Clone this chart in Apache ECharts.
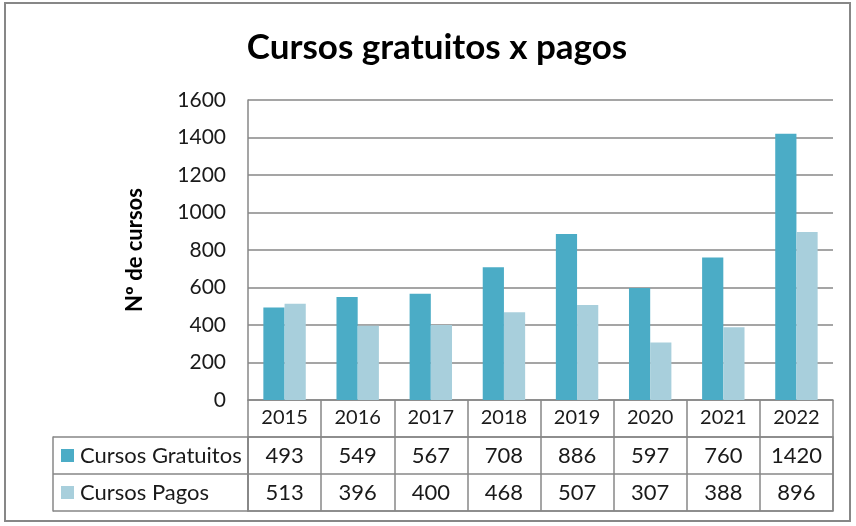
<!DOCTYPE html>
<html>
<head>
<meta charset="utf-8">
<script src="https://cdn.jsdelivr.net/npm/echarts@6/dist/echarts.min.js"></script>
<style>
  html, body { margin: 0; padding: 0; background: #fff; }
  #box { width: 856px; height: 526px; }
</style>
</head>
<body>
<div id="box"></div>
<script>
var anos = ['2015', '2016', '2017', '2018', '2019', '2020', '2021', '2022'];
var gratuitos = [493, 549, 567, 708, 886, 597, 760, 1420];
var pagos = [513, 396, 400, 468, 507, 307, 388, 896];
var nomes = ['Cursos Gratuitos', 'Cursos Pagos'];
var yTicks = [0, 200, 400, 600, 800, 1000, 1200, 1400, 1600];

var cores = ['#4bacc6', '#a8cfdc'];
var cinza = '#878787';
var fonte = 'Lato';

var dom = document.getElementById('box');
var myChart = echarts.init(dom);

// celulas da tabela (coluna = ano, linha = serie)
var celulasG = gratuitos.map(function (v, i) { return [i, 0, v]; });
var celulasP = pagos.map(function (v, i) { return [i, 1, v]; });

var celula = {
    type: 'scatter',
    xAxisIndex: 1,
    yAxisIndex: 1,
    symbolSize: 1,
    silent: true,
    itemStyle: { color: '#fff', opacity: 1 },
    label: {
        show: true,
        position: 'inside',
        formatter: function (p) { return p.value[2]; },
        fontFamily: fonte,
        fontSize: 22,
        color: '#1a1a1a',
        opacity: 1
    }
};

var option = {
    animation: false,
    title: {
        text: 'Cursos gratuitos x pagos',
        left: 432,
        textAlign: 'center',
        top: 25,
        textStyle: { fontFamily: fonte, fontSize: 35, fontWeight: 'bold', color: '#000' }
    },
    graphic: [{
        type: 'rect',
        shape: { x: 5, y: 3, width: 845, height: 518 },
        style: { fill: 'none', stroke: cinza, lineWidth: 2 }
    }],
    grid: [
        { left: 248, right: 23, top: 100, bottom: 126 },
        { left: 248, right: 23, top: 437, bottom: 15, show: true, borderColor: cinza, borderWidth: 1.5 }
    ],
    xAxis: [
        {
            type: 'category',
            gridIndex: 0,
            data: anos,
            axisLine: { show: true, lineStyle: { color: cinza, width: 1.5 } },
            axisTick: { show: true, length: 37, interval: 0, lineStyle: { color: cinza, width: 1.5 } },
            axisLabel: { margin: 8, fontFamily: fonte, fontSize: 20, color: '#1a1a1a' }
        },
        {
            type: 'category',
            gridIndex: 1,
            data: anos,
            axisLine: { show: false },
            axisTick: { show: false },
            axisLabel: { show: false },
            splitLine: { show: true, interval: 0, lineStyle: { color: cinza, width: 1.5 } }
        }
    ],
    yAxis: [
        {
            type: 'value',
            gridIndex: 0,
            min: yTicks[0],
            max: yTicks[yTicks.length - 1],
            interval: 200,
            name: 'Nº de cursos',
            nameLocation: 'middle',
            nameGap: 102,
            nameTextStyle: { fontFamily: fonte, fontSize: 22, fontWeight: 'bold', color: '#000' },
            axisLine: { show: true, lineStyle: { color: cinza, width: 1.5 } },
            axisTick: { show: false },
            axisLabel: {
                margin: 22, fontFamily: fonte, fontSize: 21, color: '#1a1a1a',
                formatter: function (v) { return String(v); }
            },
            splitLine: { show: true, lineStyle: { color: cinza, width: 1.5 } }
        },
        {
            type: 'category',
            gridIndex: 1,
            data: nomes,
            inverse: true,
            axisLine: { show: true, lineStyle: { color: cinza, width: 1.5 } },
            axisTick: { show: true, length: 195, interval: 0, lineStyle: { color: cinza, width: 1.5 } },
            splitLine: { show: true, interval: 0, lineStyle: { color: cinza, width: 1.5 } },
            axisLabel: {
                align: 'left',
                margin: 187,
                formatter: function (v, i) { return '{k' + i + '|}{t|' + v + '}'; },
                rich: {
                    k0: { width: 13, height: 13, backgroundColor: cores[0] },
                    k1: { width: 13, height: 13, backgroundColor: cores[1] },
                    t: { fontFamily: fonte, fontSize: 22, color: '#1a1a1a', padding: [0, 0, 0, 6] }
                }
            }
        },
        {
            type: 'category',
            gridIndex: 1,
            data: nomes,
            position: 'left',
            offset: 195,
            axisLine: { show: true, lineStyle: { color: cinza, width: 1.5 } },
            axisTick: { show: false },
            axisLabel: { show: false }
        }
    ],
    series: [
        {
            name: nomes[0],
            type: 'bar',
            data: gratuitos,
            barGap: '0%',
            barCategoryGap: '42%',
            itemStyle: { color: cores[0] }
        },
        {
            name: nomes[1],
            type: 'bar',
            data: pagos,
            itemStyle: { color: cores[1] }
        },
        Object.assign({ name: 'tabG', data: celulasG }, celula),
        Object.assign({ name: 'tabP', data: celulasP }, celula)
    ]
};

if (option && typeof option === 'object') {
    myChart.setOption(option, true);
}
</script>
</body>
</html>
